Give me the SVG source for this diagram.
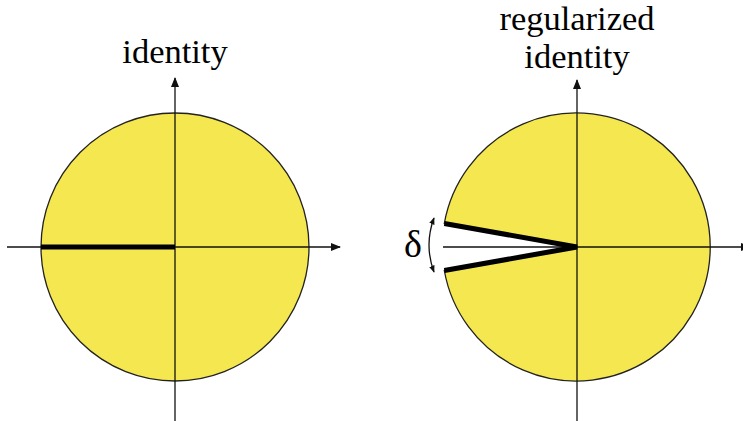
<svg xmlns="http://www.w3.org/2000/svg" width="743" height="421" viewBox="0 0 743 421">
<defs>
<style>
.disk{fill:#f5e74f;stroke:#222;stroke-width:1.3}
.axis{stroke:#111;stroke-width:1.3;fill:none}
.bold{stroke:#000;stroke-width:5;fill:none}
.lbl{font-family:"Liberation Serif","Times New Roman",serif;font-size:34.5px;fill:#000;text-anchor:middle}
</style>
<marker id="ah" viewBox="0 0 10 10" refX="9" refY="5" markerWidth="10" markerHeight="10" markerUnits="userSpaceOnUse" orient="auto">
<path d="M0,1 L10,5 L0,9 Z" fill="#111"/>
</marker>
<marker id="ahs" viewBox="0 0 10 10" refX="9" refY="5" markerWidth="7" markerHeight="7" markerUnits="userSpaceOnUse" orient="auto-start-reverse">
<path d="M0,1 L10,5 L0,9 Z" fill="#111"/>
</marker>
</defs>
<g id="left">
<circle class="disk" cx="175" cy="247" r="134"/>
</g>
<g id="right">
<path class="disk" d="M577,247 L444.3,223.5 A134,134 0 1 1 444.3,270.5 Z"/>
</g>
<g id="connectors">
<line class="axis" x1="175" y1="421" x2="175" y2="78" marker-end="url(#ah)"/>
<line class="axis" x1="7" y1="247" x2="340" y2="247" marker-end="url(#ah)"/>
<line class="bold" x1="41" y1="247" x2="175" y2="247"/>
<line class="axis" x1="577" y1="421" x2="577" y2="80" marker-end="url(#ah)"/>
<line class="axis" x1="443" y1="247" x2="750" y2="247" marker-end="url(#ah)"/>
<polyline class="bold" points="444.3,223.5 577,247 444.3,270.5"/>
<path class="axis" d="M434,218 Q424,245 434,272" marker-start="url(#ahs)" marker-end="url(#ahs)"/>
</g>
<g id="labels">
<text class="lbl" x="175" y="63">identity</text>
<text class="lbl" x="577" y="30">regularized</text>
<text class="lbl" x="577" y="68">identity</text>
<text class="lbl" x="413" y="257" style="font-size:38px">δ</text>
</g>
</svg>
